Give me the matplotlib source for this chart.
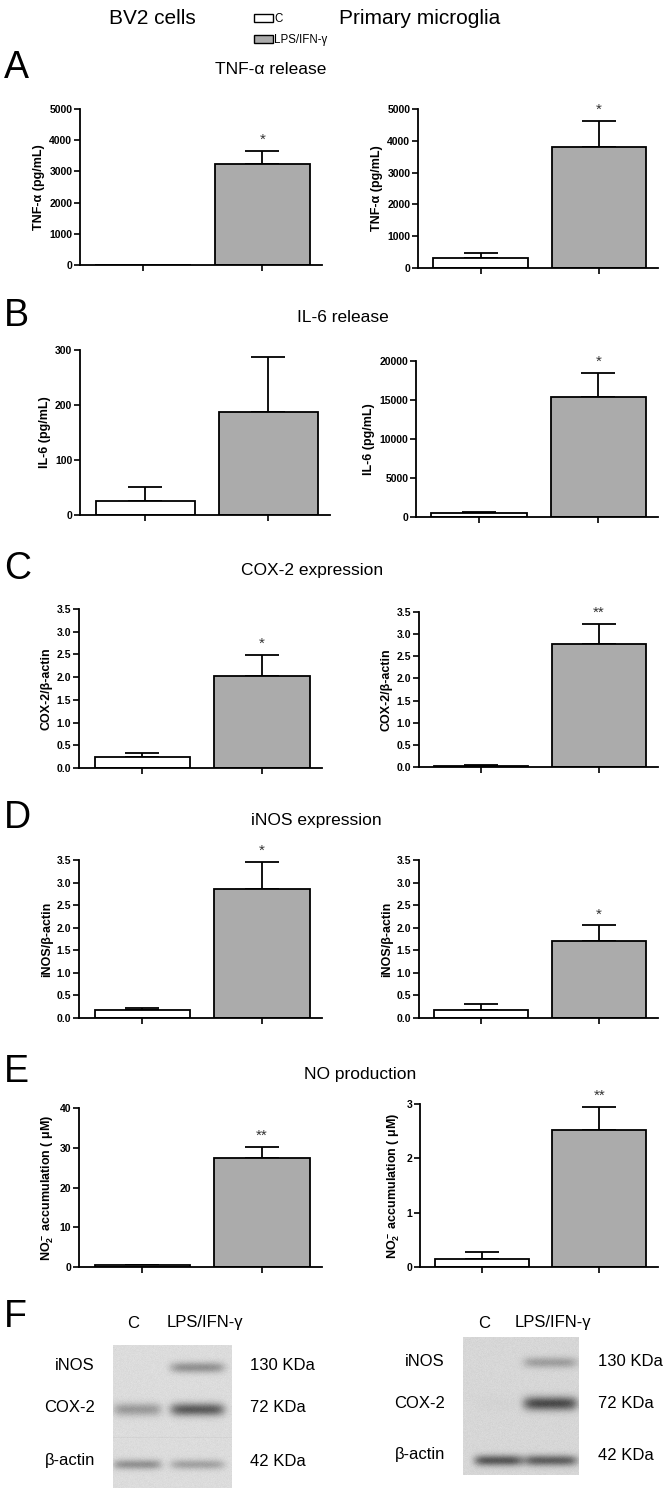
import numpy as np
import matplotlib
matplotlib.use("Agg")
import matplotlib.pyplot as plt
from matplotlib.patches import Patch

plt.rcParams['font.family'] = ['Liberation Sans', 'DejaVu Sans']
plt.rcParams['mathtext.fontset'] = 'custom'
plt.rcParams['mathtext.rm'] = 'Liberation Sans:bold'
plt.rcParams['mathtext.it'] = 'Liberation Sans:bold'
plt.rcParams['mathtext.bf'] = 'Liberation Sans:bold'

W, H = 672, 1495
DPI = 100

# ---------------- data ----------------
groups = ["C", "LPS/IFN-γ"]
bar_colors = ["white", "#ababab"]

panel_letters = ["A", "B", "C", "D", "E"]
panel_titles = ["TNF-α release", "IL-6 release", "COX-2 expression",
                "iNOS expression", "NO production"]

ylabels = ["TNF-α (pg/mL)", "IL-6 (pg/mL)", "COX-2/β-actin", "iNOS/β-actin",
           r"NO$_2^-$ accumulation ( $\mu$M)"]

# BV2 cells (left column)
bv2_means = [[0, 3230], [25, 187], [0.25, 2.03], [0.17, 2.85], [0.4, 27.5]]
bv2_errs = [[0, 420], [26, 100], [0.08, 0.45], [0.05, 0.60], [0.15, 2.8]]
bv2_stars = ["*", "", "*", "*", "**"]
bv2_yticks = [[0, 1000, 2000, 3000, 4000, 5000], [0, 100, 200, 300],
              [0, 0.5, 1, 1.5, 2, 2.5, 3, 3.5], [0, 0.5, 1, 1.5, 2, 2.5, 3, 3.5],
              [0, 10, 20, 30, 40]]

# Primary microglia (right column)
pm_means = [[315, 3810], [500, 15400], [0.03, 2.77], [0.18, 1.70], [0.15, 2.53]]
pm_errs = [[155, 820], [200, 3050], [0.02, 0.45], [0.12, 0.35], [0.13, 0.42]]
pm_stars = ["*", "*", "**", "*", "**"]
pm_yticks = [[0, 1000, 2000, 3000, 4000, 5000], [0, 5000, 10000, 15000, 20000],
             [0, 0.5, 1, 1.5, 2, 2.5, 3, 3.5], [0, 0.5, 1, 1.5, 2, 2.5, 3, 3.5],
             [0, 1, 2, 3]]
tick_fmt = ["{:.0f}", "{:.0f}", "{:.1f}", "{:.1f}", "{:.0f}"]

# Western blot (panel F) band darkness, rows: iNOS, COX-2, beta-actin; cols: C, LPS/IFN-g
blot_rows = ["iNOS", "COX-2", "β-actin"]
blot_kda = ["130 KDa", "72 KDa", "42 KDa"]
bv2_bands = [[0.0, 0.45], [0.40, 0.78], [0.45, 0.35]]
pm_bands = [[0.0, 0.35], [0.02, 0.88], [0.80, 0.75]]

# ---------------- layout helpers ----------------
fig = plt.figure(figsize=(W / DPI, H / DPI), dpi=DPI)


def ax_px(x0, y0, x1, y1):
    return fig.add_axes([x0 / W, 1 - y1 / H, (x1 - x0) / W, (y1 - y0) / H])


def txt(x, y, s, **kw):
    fig.text(x / W, 1 - y / H, s, **kw)


# Axes pixel boxes (x0, ytop, x1, ybottom)
left_boxes = [(80, 109, 322, 265), (80, 350, 330, 515), (79, 609, 322, 768),
              (79, 860, 322, 1018), (79, 1108, 322, 1267)]
right_boxes = [(418, 109, 658, 268), (416, 361, 658, 517), (419, 612, 658, 767),
               (419, 860, 658, 1018), (420, 1104, 658, 1267)]
letter_y = [68, 316, 569, 818, 1072]
title_x = [271, 343, 312, 316, 360]


def bar_panel(box, means, errs, star, yticks, fmt, ylabel):
    ax = ax_px(*box)
    x = np.arange(len(means))
    ax.bar(x, means, width=0.8, color=bar_colors, edgecolor="black",
           linewidth=1.3, zorder=2)
    for xi, m, e in zip(x, means, errs):
        if e > 0:
            ax.errorbar([xi], [m], yerr=[[0], [e]], fmt="none", ecolor="black",
                        elinewidth=1.3, capsize=12, capthick=1.3, zorder=1)
    if star:
        ax.annotate(star, xy=(1, means[1] + errs[1]), xytext=(0, 3),
                    textcoords="offset points", ha="center", va="bottom",
                    fontsize=11, color="#333333")
    ax.set_xlim(-0.53, 1.5)
    ax.set_ylim(0, yticks[-1])
    ax.set_yticks(yticks)
    ax.set_yticklabels([fmt.format(t) for t in yticks], fontsize=7.5,
                       fontweight="bold")
    ax.set_xticks(x)
    ax.set_xticklabels([])
    ax.tick_params(axis="both", direction="out", length=4, width=1.2, pad=1.5)
    for s in ["top", "right"]:
        ax.spines[s].set_visible(False)
    for s in ["left", "bottom"]:
        ax.spines[s].set_linewidth(1.3)
    ax.set_ylabel(ylabel, fontsize=9, fontweight="bold", labelpad=3)
    ax.patch.set_alpha(0)
    return ax


for i in range(5):
    bar_panel(left_boxes[i], bv2_means[i], bv2_errs[i], bv2_stars[i],
              bv2_yticks[i], tick_fmt[i], ylabels[i])
    bar_panel(right_boxes[i], pm_means[i], pm_errs[i], pm_stars[i],
              pm_yticks[i], tick_fmt[i], ylabels[i])
    txt(4, letter_y[i], panel_letters[i], fontsize=27, ha="left", va="center")
    txt(title_x[i], letter_y[i] + 2, panel_titles[i], fontsize=12.5,
        ha="center", va="center")

# headers
txt(152, 19, "BV2 cells", fontsize=15, ha="center", va="center")
txt(420, 19, "Primary microglia", fontsize=15, ha="center", va="center")

handles = [Patch(facecolor=c, edgecolor="black", linewidth=1) for c in bar_colors]
fig.legend(handles, groups, loc="upper left",
           bbox_to_anchor=(246 / W, 1 - 5 / H), frameon=False, fontsize=8.3,
           handlelength=1.6, handleheight=0.65, handletextpad=0.15,
           labelspacing=0.75, borderpad=0.2)

# ---------------- panel F: blots ----------------
txt(4, 1317, "F", fontsize=27, ha="left", va="center")


def blot(box, bands, bg, row_y, lane_x, lane_hw, band_sy, split=None):
    x0, y0, x1, y1 = box
    w, h = x1 - x0, y1 - y0
    yy, xx = np.mgrid[0:h, 0:w].astype(float)
    dark = np.zeros((h, w))
    for r, ry in enumerate(row_y):
        for c, lx in enumerate(lane_x):
            lane = np.exp(-(np.abs(xx - lx) / lane_hw[c]) ** 6)
            dark += bands[r][c] * lane * np.exp(-((yy - ry) / band_sy[r]) ** 2)
    rng = np.random.default_rng(0)
    img = bg - dark * (bg - 0.22) + rng.normal(0, 0.008, (h, w))
    if split is not None:
        img[split:split + 1, :] -= 0.03
    img = np.clip(img, 0, 1)
    ax = ax_px(*box)
    ax.imshow(img, cmap="gray", vmin=0, vmax=1, aspect="auto",
              interpolation="bilinear", extent=(0, w, h, 0))
    ax.set_axis_off()
    return ax


blot((113, 1345, 232, 1488), bv2_bands, 0.86, [22, 64, 119], [24, 84],
     [24, 27], [5.5, 6.5, 5], split=92)
blot((463, 1337, 579, 1475), pm_bands, 0.84, [25, 66, 123], [35, 87],
     [24, 27], [5.5, 7, 5.5])

# labels for blots
txt(133, 1323, groups[0], fontsize=12, ha="center", va="center")
txt(205, 1323, groups[1], fontsize=12, ha="center", va="center")
txt(484, 1323, groups[0], fontsize=12, ha="center", va="center")
txt(553, 1323, groups[1], fontsize=12, ha="center", va="center")
for r in range(3):
    ly = [1365, 1407, 1461][r]
    ry = [1362, 1403, 1455][r]
    txt(95, ly, blot_rows[r], fontsize=12, ha="right", va="center")
    txt(250, ly, blot_kda[r], fontsize=12, ha="left", va="center")
    txt(445, ry, blot_rows[r], fontsize=12, ha="right", va="center")
    txt(598, ry, blot_kda[r], fontsize=12, ha="left", va="center")

fig.savefig("out.png", dpi=DPI)
